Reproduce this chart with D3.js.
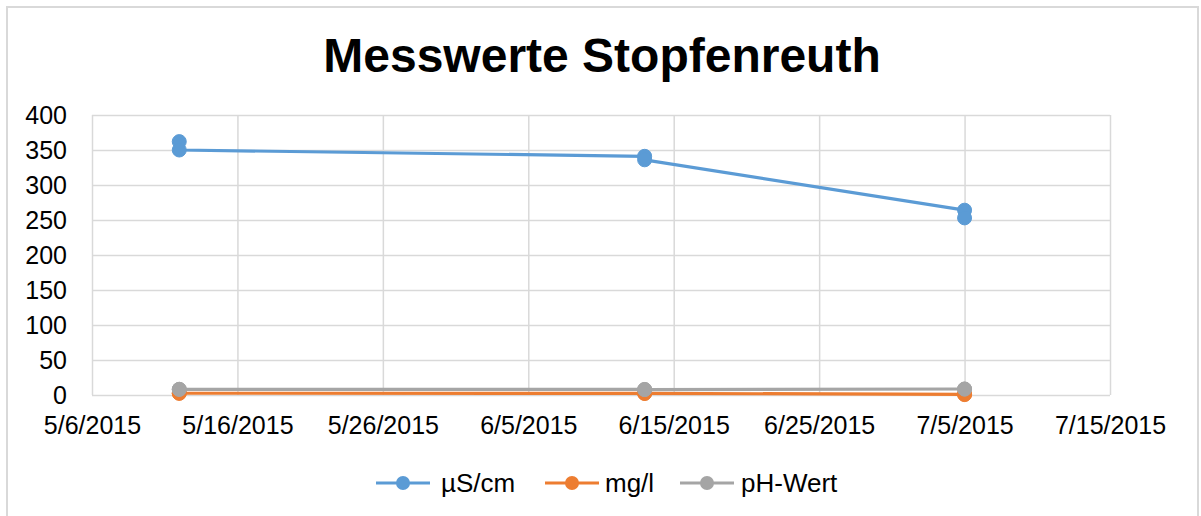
<!DOCTYPE html>
<html>
<head>
<meta charset="utf-8">
<script src="https://cdn.jsdelivr.net/npm/d3@7"></script>
<style>
  html, body { margin: 0; padding: 0; background: #fff; }
  svg { display: block; font-family: "Liberation Sans", Arial, sans-serif; }
</style>
</head>
<body>
<svg id="chart" width="1201" height="516"></svg>
<script>
// ---- data ----
const dates = ["2015-05-12", "2015-05-12", "2015-06-13", "2015-06-13", "2015-07-05", "2015-07-05"];
const conductivity = [362, 350, 341, 336, 264, 253];   // µS/cm
const mgl = [2.5, 2.5, 2.3, 2.3, 1.0, 0.6];             // mg/l
const ph = [8.2, 8.0, 7.9, 7.8, 8.6, 8.4];              // pH-Wert
const seriesNames = ["µS/cm", "mg/l", "pH-Wert"];
const yTicks = [0, 50, 100, 150, 200, 250, 300, 350, 400];
const xTickDates = ["2015-05-06", "2015-05-16", "2015-05-26", "2015-06-05", "2015-06-15", "2015-06-25", "2015-07-05", "2015-07-15"];
const title = "Messwerte Stopfenreuth";

const colors = ["#5b9bd5", "#ed7d31", "#a5a5a5"];
const parse = d3.utcParse("%Y-%m-%d");
const fmt = d => `${d.getUTCMonth() + 1}/${d.getUTCDate()}/${d.getUTCFullYear()}`;

const svg = d3.select("#chart");

// outer border
svg.append("rect").attr("x", 7).attr("y", 7).attr("width", 1191).attr("height", 520)
  .attr("fill", "#fff").attr("stroke", "#d9d9d9").attr("stroke-width", 2);

const plot = { left: 92, right: 1110, top: 115, bottom: 395 };

const x = d3.scaleUtc()
  .domain([parse(xTickDates[0]), parse(xTickDates[xTickDates.length - 1])])
  .range([plot.left, plot.right]);
const y = d3.scaleLinear().domain([0, 400]).range([plot.bottom, plot.top]);

// title
svg.append("text").attr("x", 602).attr("y", 72).attr("text-anchor", "middle")
  .attr("font-size", 48).attr("font-weight", "bold").attr("fill", "#000").text(title);

// grid + axes
const xTickVals = xTickDates.map(parse);
const gx = svg.append("g").attr("transform", `translate(0,${plot.bottom})`)
  .call(d3.axisBottom(x).tickValues(xTickVals).tickSize(-(plot.bottom - plot.top)).tickFormat(fmt).tickPadding(21));
gx.select(".domain").remove();
gx.selectAll("line").attr("stroke", "#d9d9d9").attr("stroke-width", 1.5);
gx.selectAll("text").attr("font-size", 25).attr("fill", "#000").attr("font-family", "Liberation Sans, Arial, sans-serif");

const gy = svg.append("g").attr("transform", `translate(${plot.left},0)`)
  .call(d3.axisLeft(y).tickValues(yTicks).tickSize(-(plot.right - plot.left)).tickPadding(25));
gy.select(".domain").remove();
gy.selectAll("line").attr("stroke", "#d9d9d9").attr("stroke-width", 1.5);
gy.selectAll("text").attr("font-size", 25).attr("fill", "#000").attr("font-family", "Liberation Sans, Arial, sans-serif");

// series
const allSeries = [conductivity, mgl, ph];
const line = d3.line().x(d => x(d[0])).y(d => y(d[1]));
allSeries.forEach((vals, i) => {
  const pts = dates.map((d, j) => [parse(d), vals[j]]);
  svg.append("path").datum(pts).attr("d", line).attr("fill", "none")
    .attr("stroke", colors[i]).attr("stroke-width", 3.2).attr("stroke-linejoin", "round");
  svg.append("g").selectAll("circle").data(pts).join("circle")
    .attr("cx", d => x(d[0])).attr("cy", d => y(d[1])).attr("r", 7)
    .attr("fill", colors[i]).attr("stroke", colors[i]).attr("stroke-width", 1);
});

// legend
const legendX = [376, 545, 680];
const legendTextX = [441, 605, 741];
const legend = svg.append("g");
seriesNames.forEach((name, i) => {
  const lx = legendX[i], ly = 483;
  legend.append("line").attr("x1", lx).attr("x2", lx + 54).attr("y1", ly).attr("y2", ly)
    .attr("stroke", colors[i]).attr("stroke-width", 3.2);
  legend.append("circle").attr("cx", lx + 27).attr("cy", ly).attr("r", 7).attr("fill", colors[i]);
  legend.append("text").attr("x", legendTextX[i]).attr("y", ly + 9).attr("font-size", 26)
    .attr("fill", "#000").text(name);
});
</script>
</body>
</html>
